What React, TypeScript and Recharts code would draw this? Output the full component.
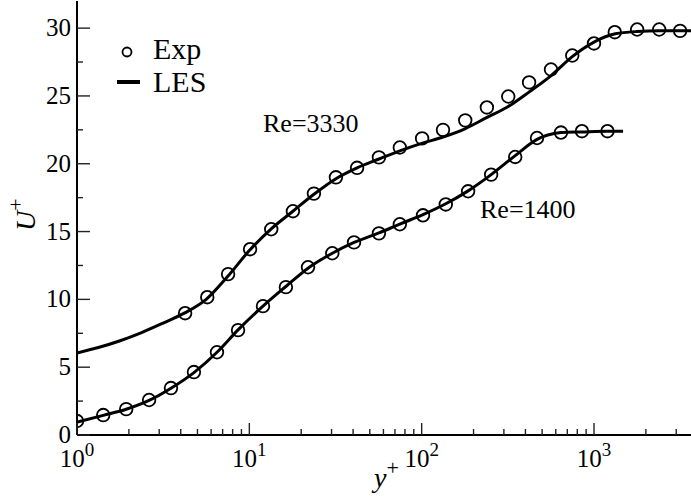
import { ComposedChart, Line, Scatter, XAxis, YAxis } from "recharts";

const SERIF = "'Liberation Serif', 'Times New Roman', serif";

// Re=3330
const les3330X = [1, 1.33, 1.78, 2.37, 3.16, 4.22, 5.62, 7.5, 10, 13.4, 17.9, 23.7, 31.8, 42.2, 56.5, 74.7, 100, 133, 178, 238, 316, 421, 564, 748, 1000, 1330, 1780, 2400, 3704];
const les3330Y = [6.05, 6.45, 6.95, 7.55, 8.25, 9.0, 10.0, 11.7, 13.6, 15.2, 16.5, 17.75, 18.9, 19.7, 20.35, 20.95, 21.5, 21.97, 22.58, 23.4, 24.2, 25.3, 26.5, 27.9, 28.97, 29.58, 29.75, 29.8, 29.8];
const exp3330X = [4.24, 5.7, 7.53, 10.1, 13.4, 17.9, 23.7, 31.8, 42.2, 56.5, 74.7, 100.6, 133, 179, 239, 318, 420, 563, 748, 1000, 1320, 1780, 2390, 3160];
const exp3330Y = [8.98, 10.16, 11.86, 13.7, 15.17, 16.5, 17.8, 19.0, 19.7, 20.47, 21.2, 21.87, 22.5, 23.2, 24.15, 24.96, 26.0, 26.95, 27.98, 28.87, 29.7, 29.9, 29.9, 29.8];

// Re=1400
const les1400X = [1, 1.42, 1.93, 2.62, 3.51, 4.77, 6.49, 8.6, 12, 16.3, 21.9, 30.3, 40.5, 56.5, 74.7, 101.8, 138, 186, 253, 349, 467, 533, 643, 851, 1197, 1475];
const les1400Y = [0.95, 1.45, 1.9, 2.55, 3.45, 4.6, 6.1, 7.75, 9.5, 10.95, 12.3, 13.4, 14.2, 14.9, 15.55, 16.25, 17.05, 18.0, 19.2, 20.6, 21.8, 22.1, 22.3, 22.35, 22.4, 22.4];
const exp1400X = [1.0, 1.42, 1.93, 2.62, 3.51, 4.77, 6.49, 8.6, 12.0, 16.3, 21.9, 30.3, 40.5, 56.5, 74.7, 101.8, 138, 186, 253, 349, 467, 643, 851, 1197];
const exp1400Y = [1.03, 1.47, 1.91, 2.58, 3.46, 4.64, 6.1, 7.73, 9.5, 10.9, 12.37, 13.4, 14.2, 14.87, 15.54, 16.2, 17.0, 17.97, 19.2, 20.5, 21.9, 22.3, 22.4, 22.4];

const xTicks = [1, 2, 3, 4, 5, 6, 7, 8, 9, 10, 20, 30, 40, 50, 60, 70, 80, 90, 100, 200, 300, 400, 500, 600, 700, 800, 900, 1000, 2000, 3000];
const yTicks = [0, 2.5, 5, 7.5, 10, 12.5, 15, 17.5, 20, 22.5, 25, 27.5, 30];

const pts = (xs: number[], ys: number[]) => xs.map((x, i) => ({ x, y: ys[i] }));

const isDecade = (v: number) => Math.abs(Math.log10(v) - Math.round(Math.log10(v))) < 1e-9;

const txt = { fontFamily: SERIF };

const BottomTick = (props: any) => {
  const { x, y, payload } = props;
  const major = isDecade(payload.value);
  return (
    <g>
      <line x1={x} x2={x} y1={y} y2={y - (major ? 12 : 6)} stroke="#222" strokeWidth={1.4} />
      {major && (
        <text x={x} y={y + 32} textAnchor="middle" style={txt} fontSize={25} fill="#000">
          10<tspan fontSize={19} dy={-11}>{Math.round(Math.log10(payload.value))}</tspan>
        </text>
      )}
    </g>
  );
};

const TopTick = (props: any) => {
  const { x, y, payload } = props;
  const major = isDecade(payload.value);
  return <line x1={x} x2={x} y1={y} y2={y + (major ? 12 : 6)} stroke="#222" strokeWidth={1.4} />;
};

const LeftTick = (props: any) => {
  const { x, y, payload } = props;
  const major = payload.value % 5 === 0;
  return (
    <g>
      <line x1={x} x2={x + (major ? 13 : 6)} y1={y} y2={y} stroke="#222" strokeWidth={1.4} />
      {major && (
        <text x={x - 6} y={y + 8} textAnchor="end" style={txt} fontSize={25} fill="#000">
          {payload.value}
        </text>
      )}
    </g>
  );
};

const RightTick = (props: any) => {
  const { x, y, payload } = props;
  const major = payload.value % 5 === 0;
  return <line x1={x} x2={x - (major ? 13 : 6)} y1={y} y2={y} stroke="#222" strokeWidth={1.4} />;
};

const Circle = (props: any) => (
  <circle cx={props.cx} cy={props.cy} r={6.3} fill="none" stroke="#000" strokeWidth={1.8} />
);

const axisLine = { stroke: "#000", strokeWidth: 2 };

export default function App() {
  return (
    <div style={{ position: "absolute", left: 0, top: 0, width: 691, height: 496, overflow: "hidden", background: "#fff" }}>
      <ComposedChart width={693} height={496} margin={{ top: 1, right: 1, bottom: 0, left: 0 }}>
        <XAxis
          xAxisId={0}
          dataKey="x"
          type="number"
          scale="log"
          domain={[1, 3704]}
          allowDataOverflow
          ticks={xTicks}
          interval={0}
          height={61}
          tickSize={0}
          tickMargin={0}
          axisLine={axisLine}
          tickLine={false}
          tick={<BottomTick />}
        />
        <XAxis
          xAxisId="top"
          orientation="top"
          dataKey="x"
          type="number"
          scale="log"
          domain={[1, 3704]}
          allowDataOverflow
          ticks={xTicks}
          interval={0}
          height={0}
          tickSize={0}
          tickMargin={0}
          axisLine={axisLine}
          tickLine={false}
          tick={<TopTick />}
        />
        <YAxis
          yAxisId={0}
          type="number"
          domain={[0, 32]}
          allowDataOverflow
          ticks={yTicks}
          interval={0}
          width={77}
          tickSize={0}
          tickMargin={0}
          axisLine={axisLine}
          tickLine={false}
          tick={<LeftTick />}
        />
        <YAxis
          yAxisId="right"
          orientation="right"
          type="number"
          domain={[0, 32]}
          allowDataOverflow
          ticks={yTicks}
          interval={0}
          width={0}
          tickSize={0}
          tickMargin={0}
          axisLine={axisLine}
          tickLine={false}
          tick={<RightTick />}
        />
        <Line data={pts(les3330X, les3330Y)} dataKey="y" type="monotone" stroke="#000" strokeWidth={3} dot={false} isAnimationActive={false} />
        <Line data={pts(les1400X, les1400Y)} dataKey="y" type="monotone" stroke="#000" strokeWidth={3} dot={false} isAnimationActive={false} />
        <Scatter data={pts(exp3330X, exp3330Y)} dataKey="y" shape={Circle} isAnimationActive={false} />
        <Scatter data={pts(exp1400X, exp1400Y)} dataKey="y" shape={Circle} isAnimationActive={false} />
      </ComposedChart>
      <svg width={691} height={496} style={{ position: "absolute", left: 0, top: 0, pointerEvents: "none" }}>
        <circle cx={127} cy={52} r={4.5} fill="none" stroke="#000" strokeWidth={1.8} />
        <text x={153} y={59} style={txt} fontSize={30}>Exp</text>
        <line x1={117} x2={140} y1={82} y2={82} stroke="#000" strokeWidth={4} />
        <text x={153} y={92} style={txt} fontSize={30}>LES</text>
        <text x={263} y={132} style={txt} fontSize={26}>Re=3330</text>
        <text x={480} y={218} style={txt} fontSize={26}>Re=1400</text>
        <text x={374} y={487} style={txt} fontSize={28} fontStyle="italic">
          y<tspan fontStyle="normal" fontSize={22} dy={-12}>+</tspan>
        </text>
        <text transform="translate(35,231) rotate(-90)" style={txt} fontSize={28} fontStyle="italic">
          U<tspan fontStyle="normal" fontSize={22} dy={-12}>+</tspan>
        </text>
      </svg>
    </div>
  );
}
